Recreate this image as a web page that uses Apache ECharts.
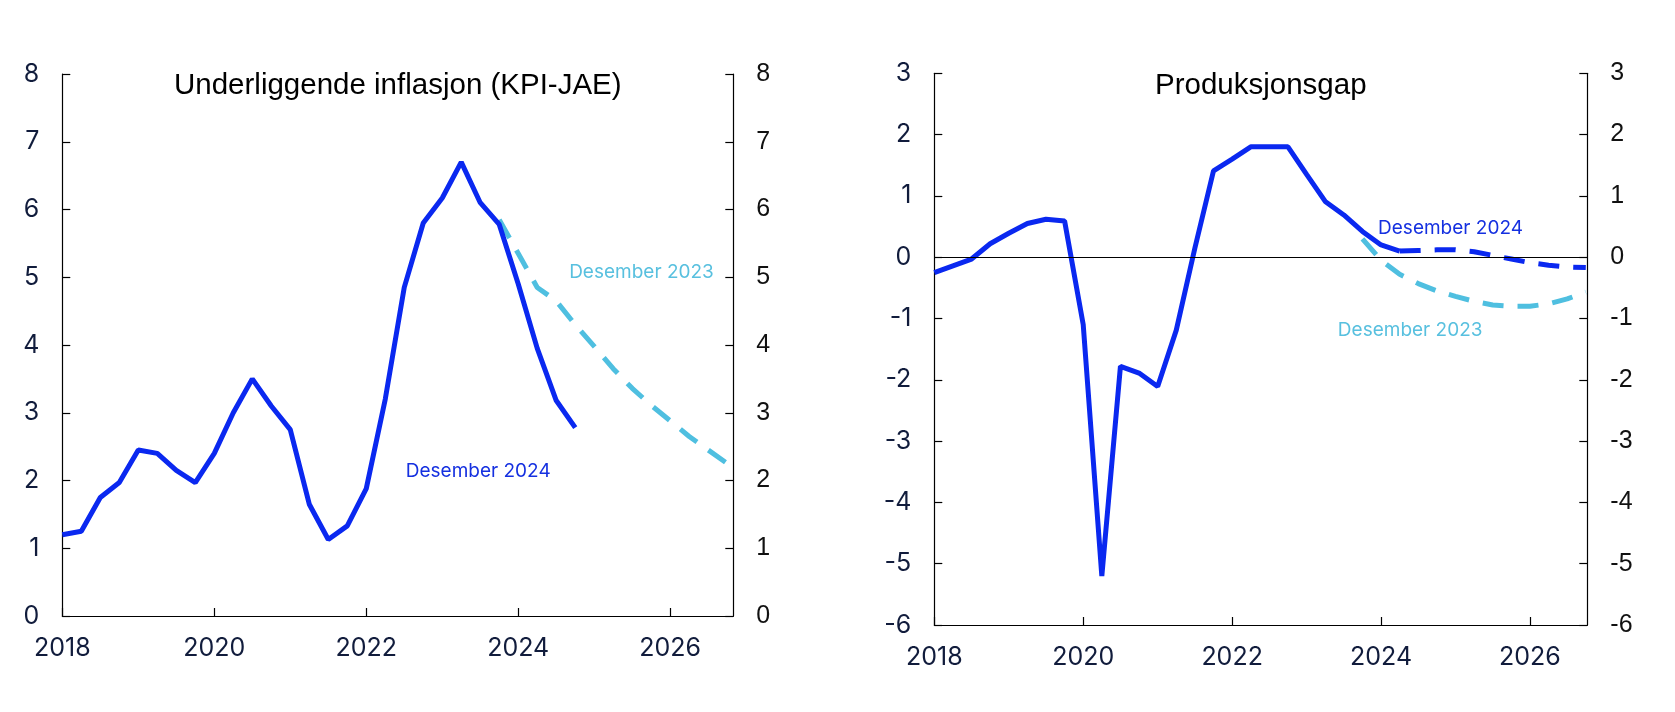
<!DOCTYPE html>
<html>
<head>
<meta charset="utf-8">
<script src="https://cdn.jsdelivr.net/npm/echarts@6/dist/echarts.min.js"></script>
<style>
  html, body { margin: 0; padding: 0; background: #fff; }
  #chart { width: 1675px; height: 712px; }
</style>
</head>
<body>
<div id="chart"></div>
<script>
// ---------- DATA ----------
const quarters = [
  '2018Q1','2018Q2','2018Q3','2018Q4','2019Q1','2019Q2','2019Q3','2019Q4',
  '2020Q1','2020Q2','2020Q3','2020Q4','2021Q1','2021Q2','2021Q3','2021Q4',
  '2022Q1','2022Q2','2022Q3','2022Q4','2023Q1','2023Q2','2023Q3','2023Q4',
  '2024Q1','2024Q2','2024Q3','2024Q4','2025Q1','2025Q2','2025Q3','2025Q4',
  '2026Q1','2026Q2','2026Q3','2026Q4'
];
const yearTicks = ['2018','2020','2022','2024','2026'];

// Underliggende inflasjon (KPI-JAE)
const inflDes2024 = [1.2, 1.25, 1.75, 1.97, 2.45, 2.4, 2.15, 1.97, 2.4, 3.0, 3.5, 3.1, 2.75, 1.65,
  1.13, 1.33, 1.88, 3.2, 4.85, 5.8, 6.17, 6.7, 6.1, 5.78, 4.9, 3.95, 3.18, 2.78]; // 2018Q1-2024Q4
const inflDes2023Start = '2023Q4';
const inflDes2023 = [5.85, 5.35, 4.85, 4.65, 4.3, 3.98, 3.65, 3.36, 3.11, 2.88, 2.65, 2.45, 2.25]; // 2023Q4-2026Q4

// Produksjonsgap
const gapDes2024 = [-0.25, -0.14, -0.03, 0.22, 0.39, 0.55, 0.62, 0.59, -1.1, -5.2, -1.78, -1.89,
  -2.11, -1.19, 0.15, 1.41, 1.6, 1.8, 1.8, 1.8, 1.35, 0.91, 0.69, 0.42, 0.2, 0.1]; // 2018Q1-2024Q2
const gapDes2024ProjStart = '2024Q2';
const gapDes2024Proj = [0.1, 0.11, 0.12, 0.12, 0.09, 0.03, -0.03, -0.09, -0.13, -0.16, -0.17]; // 2024Q2-2026Q4
const gapDes2023Start = '2023Q4';
const gapDes2023 = [0.3, -0.05, -0.28, -0.43, -0.55, -0.64, -0.72, -0.78, -0.8, -0.8, -0.76, -0.68, -0.57];

const labelsText = { d24: 'Desember 2024', d23: 'Desember 2023' };

// ---------- HELPERS ----------
function qToX(q) { return parseInt(q.slice(0, 4), 10) + (parseInt(q.slice(5), 10) - 1) / 4; }
function pairs(startQ, vals) {
  const s = quarters.indexOf(startQ);
  return vals.map((v, i) => [qToX(quarters[s + i]), v]);
}

const BLUE = '#0a28f0';
const LIGHT = '#4fbfe0';
const NAVY = '#111c3c';
const LW = 5;
const DASH = [21, 14];

const navyLabel = { fontFamily: 'Inter', fontSize: 25, color: NAVY };
const blackLabel = { fontFamily: 'Liberation Sans', fontSize: 25, color: '#111' };

function xAxis(gridIndex, max) {
  return {
    type: 'value', gridIndex, min: 2018, max, interval: 2,
    axisLine: { show: true, onZero: false, lineStyle: { color: '#000', width: 1.2 } },
    axisTick: { show: true, inside: true, length: 8, lineStyle: { color: '#000', width: 1.2 } },
    axisLabel: Object.assign({
      margin: 20,
      showMaxLabel: false,
      formatter: v => (yearTicks.indexOf(String(v)) >= 0 ? String(v) : '')
    }, navyLabel),
    splitLine: { show: false }
  };
}
function yAxis(gridIndex, position, min, max, labelStyle) {
  return {
    type: 'value', gridIndex, position, min, max, interval: 1,
    axisLine: { show: true, onZero: false, lineStyle: { color: '#000', width: 1.2 } },
    axisTick: { show: true, inside: true, length: 8, lineStyle: { color: '#000', width: 1.2 } },
    axisLabel: Object.assign({ margin: 23 }, labelStyle),
    splitLine: { show: false }
  };
}

const chart = echarts.init(document.getElementById('chart'), null, { renderer: 'canvas' });

const option = {
  animation: false,
  backgroundColor: '#fff',
  grid: [
    { left: 62.3, right: 941.7, top: 74, bottom: 96 },
    { left: 934.3, right: 87.7, top: 73.3, bottom: 87 }
  ],
  xAxis: [xAxis(0, 2026.83), xAxis(1, 2026.77)],
  yAxis: [
    yAxis(0, 'left', 0, 8, navyLabel),
    yAxis(0, 'right', 0, 8, blackLabel),
    yAxis(1, 'left', -6, 3, navyLabel),
    yAxis(1, 'right', -6, 3, blackLabel)
  ],
  series: [
    {
      type: 'line', xAxisIndex: 0, yAxisIndex: 0, z: 2,
      data: pairs(inflDes2023Start, inflDes2023),
      showSymbol: false, symbol: 'none',
      lineStyle: { color: LIGHT, width: LW, type: DASH, cap: 'butt' }
    },
    {
      type: 'line', xAxisIndex: 0, yAxisIndex: 0, z: 3,
      data: pairs('2018Q1', inflDes2024),
      showSymbol: false, symbol: 'none',
      lineStyle: { color: BLUE, width: LW }
    },
    {
      type: 'line', xAxisIndex: 1, yAxisIndex: 2, z: 2,
      data: pairs(gapDes2023Start, gapDes2023),
      showSymbol: false, symbol: 'none',
      lineStyle: { color: LIGHT, width: LW, type: DASH, cap: 'butt' },
      markLine: {
        silent: true, symbol: 'none', label: { show: false },
        lineStyle: { color: '#000', width: 1.2, type: 'solid' },
        data: [{ yAxis: 0 }]
      }
    },
    {
      type: 'line', xAxisIndex: 1, yAxisIndex: 2, z: 3,
      data: pairs('2018Q1', gapDes2024),
      showSymbol: false, symbol: 'none',
      lineStyle: { color: BLUE, width: LW }
    },
    {
      type: 'line', xAxisIndex: 1, yAxisIndex: 2, z: 3,
      data: pairs(gapDes2024ProjStart, gapDes2024Proj),
      showSymbol: false, symbol: 'none',
      lineStyle: { color: BLUE, width: LW, type: DASH, cap: 'butt' }
    }
  ]
};
chart.setOption(option);

// Annotations placed in data coordinates
const annotations = [
  { axes: [0, 0], at: [2022.52, 2.13], text: labelsText.d24, color: '#1530e0' },
  { axes: [0, 0], at: [2024.67, 5.07], text: labelsText.d23, color: '#58c0df' },
  { axes: [1, 2], at: [2023.96, 0.47], text: labelsText.d24, color: '#1530e0' },
  { axes: [1, 2], at: [2023.42, -1.19], text: labelsText.d23, color: '#58c0df' }
];
const titles = [
  { grid: 0, text: 'Underliggende inflasjon (KPI-JAE)' },
  { grid: 1, text: 'Produksjonsgap' }
];

const graphics = annotations.map(a => {
  const p = chart.convertToPixel({ xAxisIndex: a.axes[0], yAxisIndex: a.axes[1] }, a.at);
  return {
    type: 'text', x: p[0], y: p[1], z: 10,
    style: { text: a.text, fill: a.color, font: '19px Inter', textAlign: 'left', textVerticalAlign: 'middle' }
  };
});
titles.forEach(t => {
  const rect = chart.getModel().getComponent('grid', t.grid).coordinateSystem.getRect();
  graphics.push({
    type: 'text', x: rect.x + rect.width / 2, y: 86, z: 10,
    style: { text: t.text, fill: '#000', font: '29.5px "Liberation Sans"', textAlign: 'center', textVerticalAlign: 'middle' }
  });
});
chart.setOption({ graphic: graphics });
</script>
</body>
</html>
